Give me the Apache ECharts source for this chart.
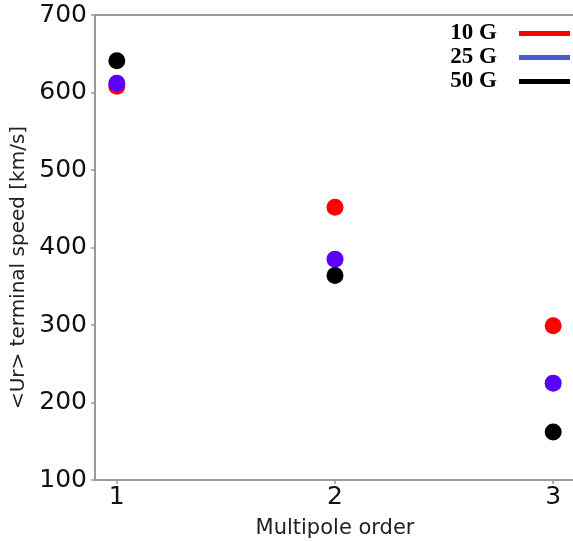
<!DOCTYPE html>
<html><head><meta charset="utf-8">
<script src="https://cdn.jsdelivr.net/npm/echarts@6/dist/echarts.min.js"></script>
<style>html,body{margin:0;padding:0;background:#fff}#c{width:573px;height:541px}</style>
</head><body><div id="c"></div>
<script>
const orders = [1, 2, 3];
const seriesNames = ['10 G', '25 G', '50 G'];
const speed10G = [608, 452, 299];
const speed25G = [612, 385, 225];
const speed50G = [641, 364, 162];
const yTicks = [100, 200, 300, 400, 500, 600, 700];

const markerColors = ['#ff0000', '#5a00ff', '#000000'];
const legendColors = ['#ff0000', '#4a5bcc', '#000000'];
const allValues = [speed10G, speed25G, speed50G];

const chart = echarts.init(document.getElementById('c'), null, {renderer: 'canvas'});
const axisColor = '#999';
chart.setOption({
  animation: false,
  grid: {left: 95, top: 15, width: 480, height: 465, outerBoundsMode: 'none', containLabel: false, show: false},
  legend: {
    orient: 'vertical', right: 3, top: 22, padding: 0, align: 'right', itemGap: 1,
    itemWidth: 51, itemHeight: 5, icon: 'rect',
    textStyle: {fontFamily: 'Liberation Serif', fontWeight: 'bold', fontSize: 23, color: '#000', padding: [0, 17, 0, 0]},
    data: seriesNames.map((n, i) => ({name: n, itemStyle: {color: legendColors[i]}}))
  },
  xAxis: [{
    type: 'value', min: 0.9, max: 3.1,
    name: 'Multipole order', nameLocation: 'middle', nameGap: 38,
    nameTextStyle: {fontFamily: 'DejaVu Sans', fontSize: 21, color: '#222'},
    axisLine: {show: true, lineStyle: {color: axisColor, width: 2}},
    axisTick: {show: true, length: 4, lineStyle: {color: axisColor, width: 1.5}, customValues: orders},
    axisLabel: {fontFamily: 'DejaVu Sans', fontSize: 25, color: '#111', margin: 5, customValues: orders},
    splitLine: {show: false}
  }, {
    type: 'value', position: 'top', min: 0.9, max: 3.1,
    axisLine: {show: true, lineStyle: {color: axisColor, width: 2}},
    axisTick: {show: false}, axisLabel: {show: false}, splitLine: {show: false}
  }],
  yAxis: {
    type: 'value', min: yTicks[0], max: yTicks[yTicks.length - 1], interval: 100,
    name: '<Ur> terminal speed [km/s]', nameLocation: 'middle', nameGap: 63,
    nameTextStyle: {fontFamily: 'DejaVu Sans', fontSize: 20, color: '#222', padding: [0, 40, 0, 0]},
    axisLine: {show: true, lineStyle: {color: axisColor, width: 2}},
    axisTick: {show: true, length: 4, lineStyle: {color: axisColor, width: 1.5}},
    axisLabel: {fontFamily: 'DejaVu Sans', fontSize: 25, color: '#111', margin: 8},
    splitLine: {show: false}
  },
  series: seriesNames.map((n, i) => ({
    name: n, type: 'scatter', symbol: 'circle', symbolSize: 17, z: 2 + i,
    xAxisIndex: 0,
    itemStyle: {color: markerColors[i], opacity: 1},
    data: orders.map((o, j) => [o, allValues[i][j]])
  }))
});
</script></body></html>
